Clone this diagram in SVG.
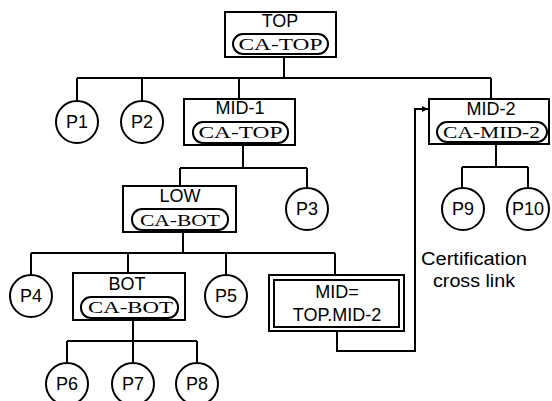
<svg xmlns="http://www.w3.org/2000/svg" width="552" height="401" viewBox="0 0 552 401">
<defs>
<style>
.box{fill:#fff;stroke:#000;stroke-width:2}
.pill{fill:#fff;stroke:#000;stroke-width:2}
.c{fill:#fff;stroke:#000;stroke-width:2}
.ln{fill:none;stroke:#000;stroke-width:2}
.t{font-family:"Liberation Sans",Arial,sans-serif;font-size:18px;text-anchor:middle;fill:#000}
.s{font-family:"Liberation Serif","Times New Roman",serif;font-size:17px;text-anchor:middle;fill:#000}
.lab{font-family:"Liberation Sans",Arial,sans-serif;font-size:18px;fill:#000}
</style>
<marker id="arr" viewBox="0 0 10 10" refX="10" refY="5" markerWidth="6" markerHeight="6" orient="auto" markerUnits="userSpaceOnUse"><path d="M0,0 L10,5 L0,10 z" fill="#000"/></marker>
</defs>
<g id="connectors">
<path class="ln" d="M284,57 V78 M77,78 H491 M77,78 V101 M142,78 V101 M239,78 V99 M491,78 V99"/>
<path class="ln" d="M243,145 V168 M180,168 H307 M180,168 V186 M307,168 V188"/>
<path class="ln" d="M183,232 V253 M31,253 H335 M31,253 V275 M128,253 V273 M226,253 V275 M335,253 V275"/>
<path class="ln" d="M133,320 V341 M67,341 H197 M67,341 V363 M133,341 V363 M197,341 V363"/>
<path class="ln" d="M496,144 V167 M462,167 H528 M462,167 V188 M528,167 V188"/>
<path class="ln" d="M337,331 V351 H415 V109 H428" marker-end="url(#arr)"/>
</g>
<g id="TOP"><rect class="box" x="225" y="12" width="111" height="45"/><text class="t" x="280" y="27">TOP</text><rect class="pill" x="233" y="34" width="95" height="20" rx="10"/><text class="s" x="280.5" y="50" textLength="84" lengthAdjust="spacingAndGlyphs">CA-TOP</text></g>
<g id="MID-1"><rect class="box" x="184" y="99" width="111" height="46"/><text class="t" x="240" y="114">MID-1</text><rect class="pill" x="193" y="122" width="95" height="21" rx="10"/><text class="s" x="240.5" y="138" textLength="84" lengthAdjust="spacingAndGlyphs">CA-TOP</text></g>
<g id="MID-2"><rect class="box" x="429" y="99" width="120" height="45"/><text class="t" x="491" y="115">MID-2</text><rect class="pill" x="437" y="122" width="110" height="20" rx="10"/><text class="s" x="491.5" y="138" textLength="97" lengthAdjust="spacingAndGlyphs">CA-MID-2</text></g>
<g id="LOW"><rect class="box" x="123" y="186" width="113" height="46"/><text class="t" x="180" y="202">LOW</text><rect class="pill" x="132" y="209" width="96" height="21" rx="10"/><text class="s" x="180" y="226" textLength="80" lengthAdjust="spacingAndGlyphs">CA-BOT</text></g>
<g id="BOT"><rect class="box" x="73" y="273" width="112" height="47"/><text class="t" x="127" y="290">BOT</text><rect class="pill" x="81" y="297" width="97" height="21" rx="10"/><text class="s" x="130.5" y="313" textLength="85" lengthAdjust="spacingAndGlyphs">CA-BOT</text></g>
<g id="MIDREF"><rect class="box" x="269" y="275" width="135" height="56"/><rect class="box" x="274" y="280" width="125" height="47"/><text class="t" x="337" y="298">MID=</text><text class="t" x="337" y="321">TOP.MID-2</text></g>
<g id="P1"><circle class="c" cx="77" cy="122" r="21"/><text class="t" x="77" y="128">P1</text></g>
<g id="P2"><circle class="c" cx="142" cy="122" r="21"/><text class="t" x="142" y="128">P2</text></g>
<g id="P3"><circle class="c" cx="307" cy="209" r="21"/><text class="t" x="307" y="215">P3</text></g>
<g id="P4"><circle class="c" cx="31" cy="296" r="21"/><text class="t" x="31" y="302">P4</text></g>
<g id="P5"><circle class="c" cx="226" cy="296" r="21"/><text class="t" x="226" y="302">P5</text></g>
<g id="P6"><circle class="c" cx="67" cy="384" r="21"/><text class="t" x="67" y="390">P6</text></g>
<g id="P7"><circle class="c" cx="133" cy="384" r="21"/><text class="t" x="133" y="390">P7</text></g>
<g id="P8"><circle class="c" cx="197" cy="384" r="21"/><text class="t" x="197" y="390">P8</text></g>
<g id="P9"><circle class="c" cx="463" cy="209" r="21"/><text class="t" x="463" y="215">P9</text></g>
<g id="P10"><circle class="c" cx="528" cy="209" r="21"/><text class="t" x="528" y="215">P10</text></g>
<g id="label"><text class="lab" x="421" y="265" textLength="106" lengthAdjust="spacingAndGlyphs">Certification</text><text class="lab" x="433" y="287" textLength="82" lengthAdjust="spacingAndGlyphs">cross link</text></g>
</svg>
